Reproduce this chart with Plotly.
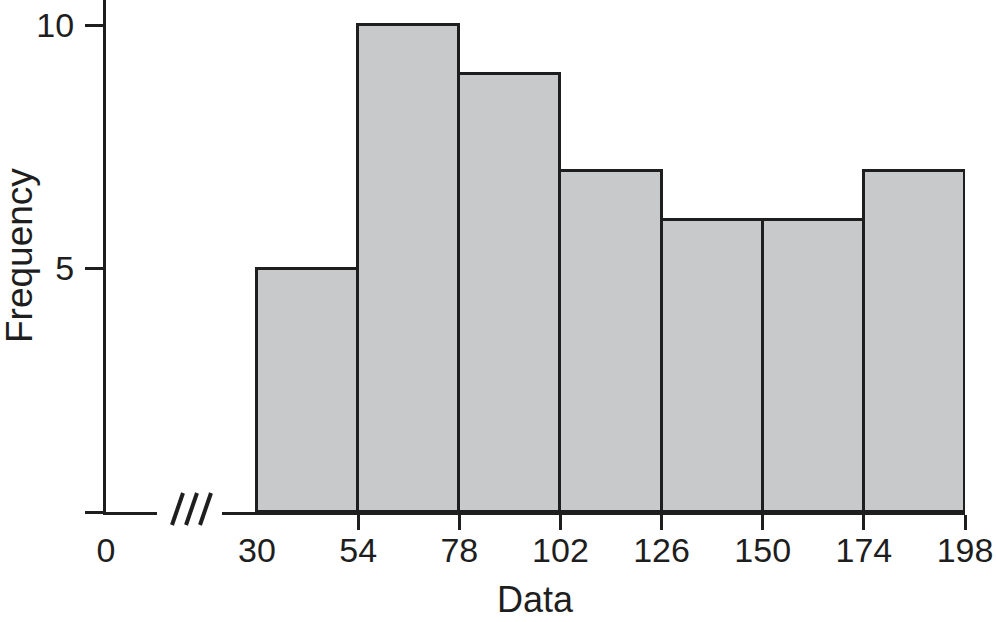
import plotly.graph_objects as go

# Data
bin_edges = [30, 54, 78, 102, 126, 150, 174, 198]
frequencies = [5, 10, 9, 7, 6, 6, 7]
y_tick_vals = [0, 5, 10]
y_tick_text = ["", "5", "10"]
x_break_label = ["0"]

W, H = 996, 622
L, R, T, B = 106, 31, 0, 110
PW = W - L - R
PH = H - T - B

FONT = "Liberation Sans, Arial, Helvetica, sans-serif"
INK = "#1e1e1e"
FILL = "#c8c9cb"

lefts = bin_edges[:-1]
widths = [b - a for a, b in zip(bin_edges[:-1], bin_edges[1:])]

fig = go.Figure()
# invisible anchor trace so the first (short) x-axis segment is drawn
fig.add_trace(go.Scatter(
    x=[0], y=[0], mode="markers", marker=dict(opacity=0),
    xaxis="x", yaxis="y", showlegend=False, hoverinfo="skip",
))
fig.add_trace(go.Bar(
    x=lefts, y=frequencies, width=widths, offset=0,
    marker=dict(color=FILL, line=dict(color=INK, width=3)),
    xaxis="x2", yaxis="y", showlegend=False, hoverinfo="skip",
))

px_per_unit = (965 - 257) / (bin_edges[-1] - bin_edges[0])
seg1_end = (157 - L) / px_per_unit
seg2_start = bin_edges[0] - (257 - 222) / px_per_unit


def px_x(p):
    return (p - L) / PW


def px_y(p):
    return (PH - p) / PH


# axis-break marks "///"
break_shapes = [
    dict(type="line", xref="paper", yref="paper",
         x0=px_x(b), y0=px_y(525), x1=px_x(b + 11), y1=px_y(493),
         line=dict(color=INK, width=4))
    for b in (172, 186, 200)
]

fig.update_layout(
    width=W, height=H, autosize=False,
    margin=dict(l=L, r=R, t=T, b=B, pad=0, autoexpand=False),
    paper_bgcolor="white", plot_bgcolor="white",
    font=dict(family=FONT, size=33, color=INK),
    bargap=0,
    xaxis=dict(
        domain=[0, (157 - L) / PW], range=[0, seg1_end],
        showline=True, linewidth=3, linecolor=INK,
        showgrid=False, zeroline=False,
        tickvals=[0], ticktext=x_break_label,
        ticks="outside", ticklen=1, tickcolor="rgba(0,0,0,0)",
        ticklabelstandoff=5,
        tickfont=dict(size=34, family=FONT, color=INK),
        anchor="y", fixedrange=True,
    ),
    xaxis2=dict(
        domain=[(222 - L) / PW, 1], range=[seg2_start, bin_edges[-1]],
        showline=True, linewidth=3, linecolor=INK,
        showgrid=False, zeroline=False,
        tickvals=bin_edges, ticktext=[str(v) for v in bin_edges],
        ticks="outside", ticklen=1, tickcolor="rgba(0,0,0,0)",
        ticklabelstandoff=5,
        minor=dict(tickvals=bin_edges[1:], ticks="outside", ticklen=15,
                   tickwidth=2.5, tickcolor=INK, showgrid=False),
        tickfont=dict(size=34, family=FONT, color=INK),
        anchor="y", fixedrange=True,
    ),
    yaxis=dict(
        domain=[0, 1], range=[0, 512 / 48.7],
        showline=True, linewidth=3, linecolor=INK,
        showgrid=False, zeroline=False,
        tickvals=y_tick_vals, ticktext=y_tick_text,
        ticks="outside", ticklen=18, tickwidth=2.5, tickcolor=INK,
        ticklabelstandoff=4,
        tickfont=dict(size=34, family=FONT, color=INK),
        anchor="x", fixedrange=True,
    ),
    shapes=break_shapes,
    annotations=[
        dict(text="Data", xref="paper", yref="paper", x=0.5,
             y=-B / PH, xanchor="center", yanchor="bottom",
             showarrow=False, font=dict(size=36, family=FONT, color=INK)),
        dict(text="Frequency", xref="paper", yref="paper",
             x=(19 - L) / PW, y=0.5, textangle=-90,
             xanchor="center", yanchor="middle",
             showarrow=False, font=dict(size=37, family=FONT, color=INK)),
    ],
)

fig.write_html(
    "out.html",
    config={"displayModeBar": False},
    post_script="document.body.style.margin='0';document.body.style.padding='0';"
                "document.body.style.overflow='hidden';",
)
